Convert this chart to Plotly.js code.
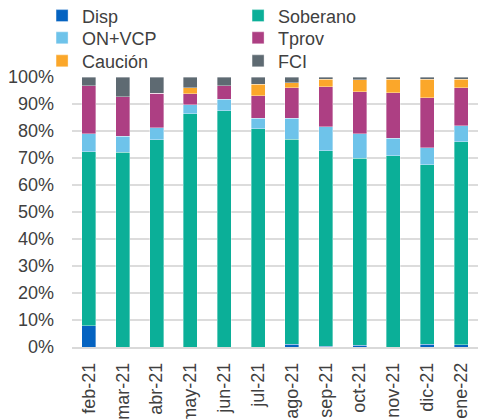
<!DOCTYPE html>
<html>
<head>
<meta charset="utf-8">
<script src="https://cdn.plot.ly/plotly-3.0.1.min.js"></script>
<style>
  html, body { margin: 0; padding: 0; background: #fff; }
  #chart { width: 478px; height: 419px; }
</style>
</head>
<body>
<div id="chart"></div>
<script>
// months on the x axis
const months = ['feb-21', 'mar-21', 'abr-21', 'may-21', 'jun-21', 'jul-21',
                'ago-21', 'sep-21', 'oct-21', 'nov-21', 'dic-21', 'ene-22'];

// share of each component (%)
const disp     = [7.9, 0, 0, 0, 0, 0, 1.0, 0.2, 0.6, 0, 1.0, 0.9];
const soberano = [64.4, 72.2, 76.8, 86.4, 87.5, 80.9, 75.9, 72.5, 69.4, 70.9, 66.5, 75.1];
const onVcp    = [6.6, 5.9, 4.4, 3.4, 4.2, 3.8, 7.9, 8.8, 9.0, 6.5, 6.3, 6.0];
const tprov    = [17.8, 14.6, 12.8, 4.0, 5.0, 8.4, 11.2, 14.9, 15.6, 16.8, 18.5, 14.0];
const caucion  = [0, 0, 0, 2.2, 0, 4.2, 1.9, 2.7, 4.4, 4.9, 6.8, 3.1];
const fci      = [3.3, 7.3, 6.0, 4.0, 3.3, 2.7, 2.1, 0.9, 1.0, 0.9, 0.9, 0.9];

const seriesNames = ['Disp', 'Soberano', 'ON+VCP', 'Tprov', 'Caución', 'FCI'];
const seriesData = [disp, soberano, onVcp, tprov, caucion, fci];
const seriesColors = ['#0563C1', '#0BAF98', '#6EC3EA', '#AD3F83', '#FBA72A', '#5E6A72'];
// two legend entries per row, one plotly legend per row
const legendRefs = ['legend', 'legend', 'legend2', 'legend2', 'legend3', 'legend3'];

const traces = seriesNames.map((name, i) => ({
    type: 'bar',
    name: name,
    x: months,
    y: seriesData[i],
    legend: legendRefs[i],
    marker: {
        color: seriesColors[i],
        line: { color: 'rgba(255,255,255,0.45)', width: 0.8 }
    },
    hoverinfo: 'x+y+name'
}));

const font = { family: 'Liberation Sans, Arial, sans-serif', size: 18, color: '#404040' };

function legendRow(yPos) {
    return {
        orientation: 'h',
        xref: 'container',
        yref: 'container',
        x: 0.088,
        xanchor: 'left',
        y: yPos,
        yanchor: 'middle',
        entrywidth: 151,
        bgcolor: 'rgba(0,0,0,0)',
        itemclick: false,
        font: font,
        traceorder: 'normal'
    };
}

const layout = {
    width: 478,
    height: 419,
    margin: { l: 72, r: 0, t: 77, b: 72, autoexpand: false },
    barmode: 'stack',
    bargap: 0.59,
    paper_bgcolor: '#ffffff',
    plot_bgcolor: '#ffffff',
    font: font,
    showlegend: true,
    legend: legendRow(0.962),
    legend2: legendRow(0.909),
    legend3: legendRow(0.854),
    xaxis: {
        type: 'category',
        tickangle: -90,
        tickfont: font,
        ticklabelstandoff: 7,
        showgrid: false,
        showline: true,
        linecolor: '#d9d9d9',
        linewidth: 1.5,
        ticks: '',
        fixedrange: true
    },
    yaxis: {
        range: [0, 100],
        dtick: 10,
        ticksuffix: '%',
        tickfont: font,
        ticklabelstandoff: 17,
        showgrid: true,
        gridcolor: '#dcdcdc',
        gridwidth: 1.5,
        zeroline: false,
        ticks: '',
        fixedrange: true
    }
};

Plotly.newPlot('chart', traces, layout, { displayModeBar: false, staticPlot: true });
</script>
</body>
</html>
